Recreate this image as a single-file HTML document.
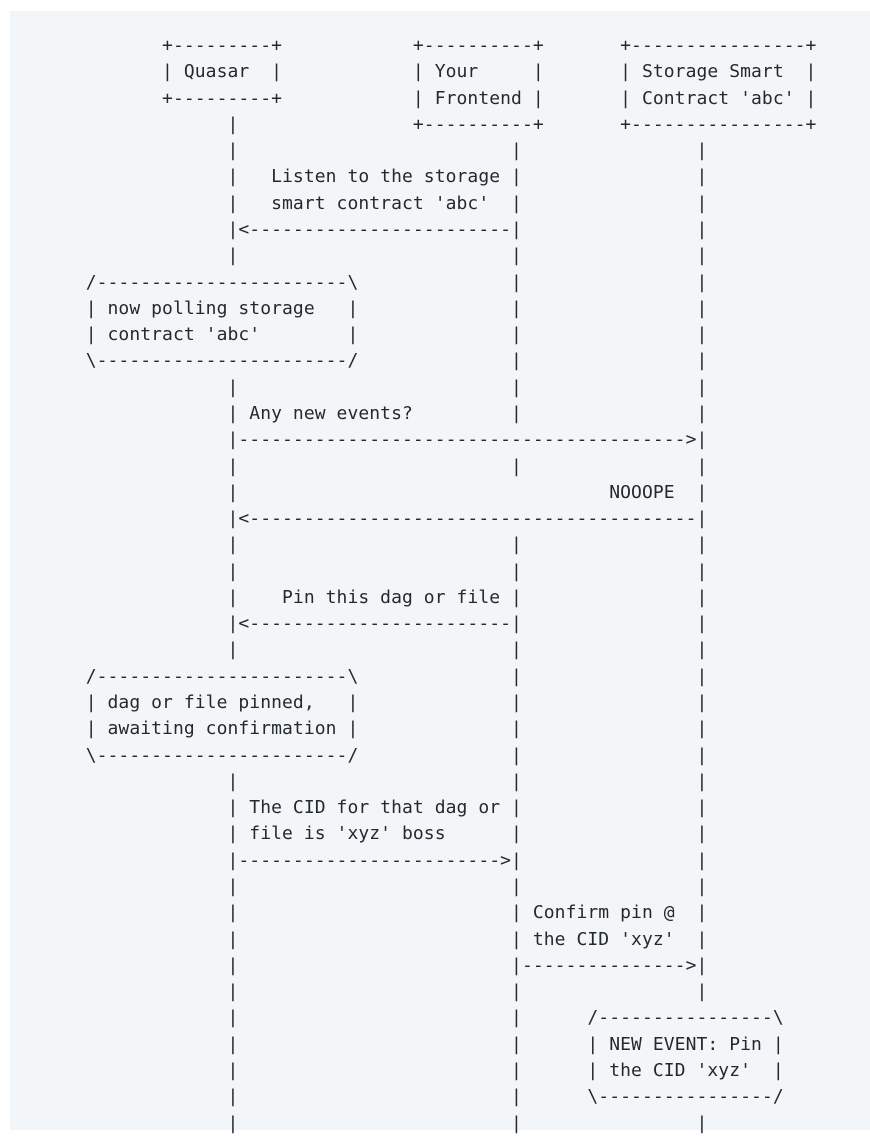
<!DOCTYPE html>
<html><head><meta charset="utf-8"><style>
html,body{margin:0;padding:0;background:#fff;width:870px;height:1130px;overflow:hidden;}
.bg{position:absolute;left:10px;top:11px;width:860px;height:1119px;background:#f3f6f9;}
pre{position:absolute;left:85.7px;top:33px;margin:0;font-family:"DejaVu Sans Mono","Liberation Mono",monospace;font-size:18px;line-height:26.28px;letter-spacing:0.07px;color:#24292e;}
</style></head><body><div class="bg"></div><pre>       +---------+            +----------+       +----------------+
       | Quasar  |            | Your     |       | Storage Smart  |
       +---------+            | Frontend |       | Contract 'abc' |
             |                +----------+       +----------------+
             |                         |                |
             |   Listen to the storage |                |
             |   smart contract 'abc'  |                |
             |&lt;------------------------|                |
             |                         |                |
/-----------------------\              |                |
| now polling storage   |              |                |
| contract 'abc'        |              |                |
\-----------------------/              |                |
             |                         |                |
             | Any new events?         |                |
             |-----------------------------------------&gt;|
             |                         |                |
             |                                  NOOOPE  |
             |&lt;-----------------------------------------|
             |                         |                |
             |                         |                |
             |    Pin this dag or file |                |
             |&lt;------------------------|                |
             |                         |                |
/-----------------------\              |                |
| dag or file pinned,   |              |                |
| awaiting confirmation |              |                |
\-----------------------/              |                |
             |                         |                |
             | The CID for that dag or |                |
             | file is 'xyz' boss      |                |
             |------------------------&gt;|                |
             |                         |                |
             |                         | Confirm pin @  |
             |                         | the CID 'xyz'  |
             |                         |---------------&gt;|
             |                         |                |
             |                         |      /----------------\
             |                         |      | NEW EVENT: Pin |
             |                         |      | the CID 'xyz'  |
             |                         |      \----------------/
             |                         |                |
</pre></body></html>
